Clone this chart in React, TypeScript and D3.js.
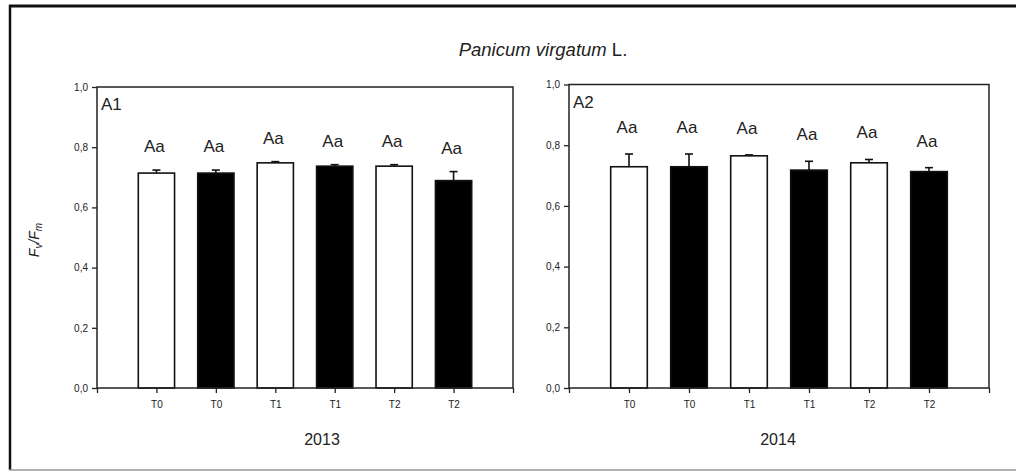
import React, { useEffect, useRef } from "react";
import * as d3 from "d3";

// Photochemical efficiency (Fv/Fm) of Panicum virgatum by sampling time
const categories = ["T0", "T0", "T1", "T1", "T2", "T2"];
const letters2013 = ["Aa", "Aa", "Aa", "Aa", "Aa", "Aa"];
const letters2014 = ["Aa", "Aa", "Aa", "Aa", "Aa", "Aa"];
const values2013 = [0.714, 0.714, 0.748, 0.737, 0.737, 0.689];
const errors2013 = [0.01, 0.01, 0.004, 0.005, 0.005, 0.03];
const values2014 = [0.729, 0.729, 0.765, 0.718, 0.742, 0.713];
const errors2014 = [0.042, 0.042, 0.003, 0.029, 0.011, 0.013];
const yTicks = [0, 0.2, 0.4, 0.6, 0.8, 1.0];

const W = 1016;
const H = 472;
const FONT = "'Liberation Sans', Arial, sans-serif";

interface Panel {
  tag: string;
  year: string;
  values: number[];
  errors: number[];
  letters: string[];
  left: number;
  right: number;
  top: number;
  bottom: number;
  labelGap: number;
  yearX: number;
}

const panels: Panel[] = [
  {
    tag: "A1",
    year: "2013",
    values: values2013,
    errors: errors2013,
    letters: letters2013,
    left: 97,
    right: 513,
    top: 87,
    bottom: 388,
    labelGap: 18,
    yearX: 322,
  },
  {
    tag: "A2",
    year: "2014",
    values: values2014,
    errors: errors2014,
    letters: letters2014,
    left: 569,
    right: 989,
    top: 84.5,
    bottom: 388,
    labelGap: 21,
    yearX: 778,
  },
];

export default function App() {
  const ref = useRef<SVGSVGElement | null>(null);

  useEffect(() => {
    const svg = d3.select(ref.current);
    svg.selectAll("*").remove();

    svg.append("rect").attr("width", W).attr("height", H).attr("fill", "#fff");

    // outer frame
    svg
      .append("line")
      .attr("x1", 9)
      .attr("x2", W)
      .attr("y1", 6)
      .attr("y2", 6)
      .attr("stroke", "#111")
      .attr("stroke-width", 3);
    svg
      .append("line")
      .attr("x1", 10)
      .attr("x2", 10)
      .attr("y1", 5)
      .attr("y2", 470)
      .attr("stroke", "#111")
      .attr("stroke-width", 2.5);
    svg
      .append("line")
      .attr("x1", 9)
      .attr("x2", W)
      .attr("y1", 470)
      .attr("y2", 470)
      .attr("stroke", "#999")
      .attr("stroke-width", 1.5);

    // title
    const title = svg
      .append("text")
      .attr("x", 543)
      .attr("y", 56)
      .attr("text-anchor", "middle")
      .attr("font-family", FONT)
      .attr("font-size", 18.5)
      .attr("fill", "#222");
    title.append("tspan").attr("font-style", "italic").text("Panicum virgatum");
    title.append("tspan").text(" L.");

    // y-axis title
    const yt = svg
      .append("text")
      .attr("transform", "translate(39,240) rotate(-90)")
      .attr("text-anchor", "middle")
      .attr("font-family", FONT)
      .attr("font-size", 14)
      .attr("font-style", "italic")
      .attr("fill", "#222");
    yt.append("tspan").text("F");
    yt.append("tspan").attr("font-size", 10).attr("dy", 3).text("v");
    yt.append("tspan").attr("dy", -3).text("/F");
    yt.append("tspan").attr("font-size", 10).attr("dy", 3).text("m");

    panels.forEach((p) => {
      const g = svg.append("g");
      const x = d3.scaleLinear().domain([0, categories.length + 1]).range([p.left, p.right]);
      const y = d3.scaleLinear().domain([0, 1]).range([p.bottom, p.top]);
      const barW = (x(1) - x(0)) * 0.61;

      // bars
      g.selectAll("rect.bar")
        .data(p.values)
        .join("rect")
        .attr("class", "bar")
        .attr("x", (_, i) => x(i + 1) - barW / 2)
        .attr("width", barW)
        .attr("y", (d) => y(d))
        .attr("height", (d) => y(0) - y(d))
        .attr("fill", (_, i) => (i % 2 === 0 ? "#fff" : "#000"))
        .attr("stroke", "#111")
        .attr("stroke-width", 1.6);

      // error bars (upper half only)
      p.values.forEach((v, i) => {
        const cx = x(i + 1);
        const yTop = y(v + p.errors[i]);
        g.append("line")
          .attr("x1", cx)
          .attr("x2", cx)
          .attr("y1", y(v))
          .attr("y2", yTop)
          .attr("stroke", "#111")
          .attr("stroke-width", 1.6);
        g.append("line")
          .attr("x1", cx - 4)
          .attr("x2", cx + 4)
          .attr("y1", yTop)
          .attr("y2", yTop)
          .attr("stroke", "#111")
          .attr("stroke-width", 1.6);
        g.append("text")
          .attr("x", cx - 2)
          .attr("y", yTop - p.labelGap)
          .attr("text-anchor", "middle")
          .attr("font-family", FONT)
          .attr("font-size", 17)
          .attr("fill", "#222")
          .text(p.letters[i]);
      });

      // plot frame
      g.append("rect")
        .attr("x", p.left)
        .attr("y", p.top)
        .attr("width", p.right - p.left)
        .attr("height", p.bottom - p.top)
        .attr("fill", "none")
        .attr("stroke", "#222")
        .attr("stroke-width", 1.5);

      // y axis
      const yAxis = d3
        .axisLeft(y)
        .tickValues(yTicks)
        .tickSize(5)
        .tickPadding(4)
        .tickFormat((d) => d3.format(".1f")(d as number).replace(".", ","));
      const ya = g.append("g").attr("transform", `translate(${p.left},0)`).call(yAxis);
      ya.select(".domain").remove();
      ya.selectAll("line").attr("stroke", "#222").attr("stroke-width", 1.3);
      ya.selectAll("text")
        .attr("font-family", FONT)
        .attr("font-size", 10)
        .attr("fill", "#222");

      // x axis
      const xAxis = d3
        .axisBottom(x)
        .tickValues(d3.range(0, categories.length + 2))
        .tickSize(5)
        .tickPadding(8)
        .tickFormat((d) => {
          const k = (d as number) - 1;
          return k >= 0 && k < categories.length ? categories[k] : "";
        });
      const xa = g.append("g").attr("transform", `translate(0,${p.bottom})`).call(xAxis);
      xa.select(".domain").remove();
      xa.selectAll("line").attr("stroke", "#222").attr("stroke-width", 1.3);
      xa.selectAll("text")
        .attr("font-family", FONT)
        .attr("font-size", 10)
        .attr("fill", "#222");

      // panel tag
      g.append("text")
        .attr("x", p.left + 4)
        .attr("y", p.top + 23)
        .attr("font-family", FONT)
        .attr("font-size", 17)
        .attr("fill", "#222")
        .text(p.tag);

      // year label
      g.append("text")
        .attr("x", p.yearX)
        .attr("y", 445)
        .attr("text-anchor", "middle")
        .attr("font-family", FONT)
        .attr("font-size", 16)
        .attr("fill", "#222")
        .text(p.year);
    });
  }, []);

  return (
    <div style={{ position: "absolute", left: 0, top: 0 }}>
      <svg ref={ref} width={W} height={H} style={{ display: "block" }} />
    </div>
  );
}
